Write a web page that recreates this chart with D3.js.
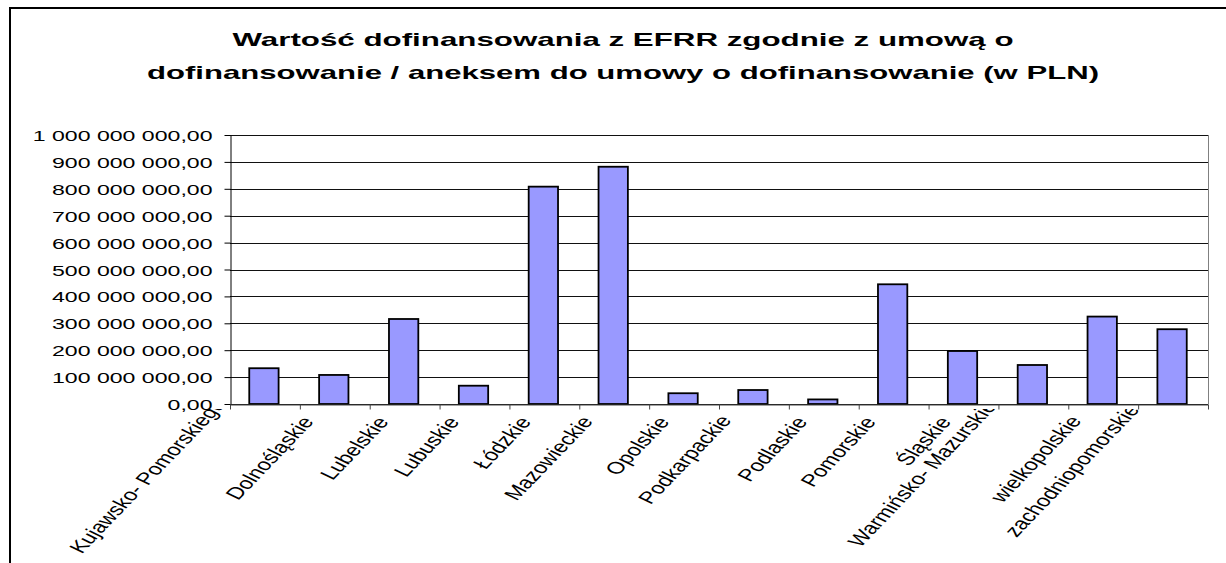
<!DOCTYPE html>
<html lang="pl">
<head>
<meta charset="UTF-8">
<title>Wartość dofinansowania z EFRR</title>
<script src="https://cdn.jsdelivr.net/npm/d3@7"></script>
<style>
  body { margin: 0; background: #fff; }
  text { font-family: Arial, "Liberation Sans", sans-serif; fill: #000; }
</style>
</head>
<body>
<div id="chart"></div>
<script>
// data
const regions = ["Kujawsko- Pomorskiego", "Dolnośląskie", "Lubelskie", "Lubuskie", "Łódzkie",
  "Mazowieckie", "Opolskie", "Podkarpackie", "Podlaskie", "Pomorskie", "Śląskie",
  "Warmińsko- Mazurskie", "wielkopolskie", "zachodniopomorskie"];
const values = [133e6, 108e6, 316e6, 68e6, 808e6, 882e6, 40e6, 52e6, 17e6, 445e6, 197e6, 145e6, 325e6, 278e6];
const yTicks = d3.range(0, 1e9 + 1, 1e8);
const titleLines = ["Wartość dofinansowania z EFRR zgodnie z umową o",
  "dofinansowanie / aneksem do umowy o dofinansowanie (w PLN)"];

const W = 1226, H = 563;
const plot = { left: 230, right: 1208, top: 135, bottom: 404 };
const stretch = 1.5;      // the original picture is wider than its fonts
const lblStretch = 1.4;
const labelAngle = Math.atan(lblStretch * Math.tan(46 * Math.PI / 180)) * 180 / Math.PI;

const pl = d3.formatLocale({ decimal: ",", thousands: " ", grouping: [3], currency: ["", ""] });
const fmt = pl.format(",.2f");

const svg = d3.select("#chart").append("svg")
  .attr("width", W).attr("height", H)
  .style("display", "block");

svg.append("rect").attr("width", W).attr("height", H).attr("fill", "#fff");

// outer frame (runs off the right and bottom edge)
svg.append("rect")
  .attr("x", 10).attr("y", 8)
  .attr("width", W + 50).attr("height", H + 50)
  .attr("fill", "none").attr("stroke", "#000").attr("stroke-width", 2);

const title = svg.append("g").attr("class", "title");
title.selectAll("text")
  .data(titleLines)
  .enter().append("text")
  .attr("x", 623)
  .attr("y", (d, i) => 46 + i * 33)
  .attr("text-anchor", "middle")
  .attr("font-weight", "bold")
  .attr("font-size", 18.5)
  .attr("textLength", (d, i) => i === 0 ? 781 : 952)
  .attr("lengthAdjust", "spacingAndGlyphs")
  .text(d => d);

const x = d3.scaleBand().domain(regions).range([plot.left, plot.right]).padding(0);
const xi = d3.scaleLinear().domain([0, regions.length]).range([plot.left, plot.right]);
const y = d3.scaleLinear().domain([0, 1e9]).range([plot.bottom, plot.top]);

// grid
svg.append("g").attr("class", "grid")
  .selectAll("line")
  .data(yTicks)
  .enter().append("line")
  .attr("x1", plot.left).attr("x2", plot.right)
  .attr("y1", d => Math.round(y(d)) + 0.5).attr("y2", d => Math.round(y(d)) + 0.5)
  .attr("stroke", "#111").attr("stroke-width", 1);

// right edge of the plot area
svg.append("line")
  .attr("x1", plot.right + 0.5).attr("x2", plot.right + 0.5)
  .attr("y1", plot.top).attr("y2", plot.bottom)
  .attr("stroke", "#808080");

// bars
const barW = x.bandwidth() * 0.42;
svg.append("g").attr("class", "bars")
  .selectAll("rect")
  .data(regions)
  .enter().append("rect")
  .attr("x", (d) => x(d) + x.bandwidth() / 2 - barW / 2 - 1)
  .attr("y", (d, i) => y(values[i]))
  .attr("width", barW)
  .attr("height", (d, i) => y(0) - y(values[i]))
  .attr("fill", "#9999ff")
  .attr("stroke", "#000")
  .attr("stroke-width", 1.8);

// y axis
const yAxis = svg.append("g")
  .attr("transform", `translate(${plot.left + 0.5},0)`)
  .call(d3.axisLeft(y).tickValues(yTicks).tickSize(6).tickSizeOuter(0).tickFormat(fmt));
yAxis.select(".domain").attr("stroke", "#000");
yAxis.selectAll(".tick line").attr("stroke", "#000");
yAxis.selectAll(".tick text")
  .attr("x", null).attr("dy", "0.36em")
  .attr("font-size", 15.4)
  .attr("font-family", null)
  .attr("transform", `translate(-18,0) scale(${stretch},1)`);

// x axis: ticks sit on the category boundaries
const xAxis = svg.append("g")
  .attr("transform", `translate(0,${plot.bottom + 0.5})`)
  .call(d3.axisBottom(xi).tickValues(d3.range(0, regions.length + 1)).tickSize(5).tickSizeOuter(0).tickFormat(""));
xAxis.select(".domain").attr("stroke", "#444");
xAxis.selectAll(".tick line").attr("stroke", "#444");

// category labels, rotated and clipped just under the axis
svg.append("clipPath").attr("id", "lblclip")
  .append("rect").attr("x", 0).attr("y", 409).attr("width", W).attr("height", H);

const labels = svg.append("g").attr("clip-path", "url(#lblclip)");
labels.selectAll("text")
  .data(regions)
  .enter().append("text")
  .attr("text-anchor", "end")
  .attr("font-size", 17)
  .text(d => d)
  .attr("transform", function (d) {
    // long labels sit further left and up, as in the original
    const w = this.getComputedTextLength();
    const cx = x(d) + x.bandwidth() / 2 - 0.21 * w;
    const cy = 422 - 0.2 * Math.max(0, w - 95);
    return `translate(${cx},${cy}) scale(${lblStretch},1) rotate(${-labelAngle})`;
  });
</script>
</body>
</html>
